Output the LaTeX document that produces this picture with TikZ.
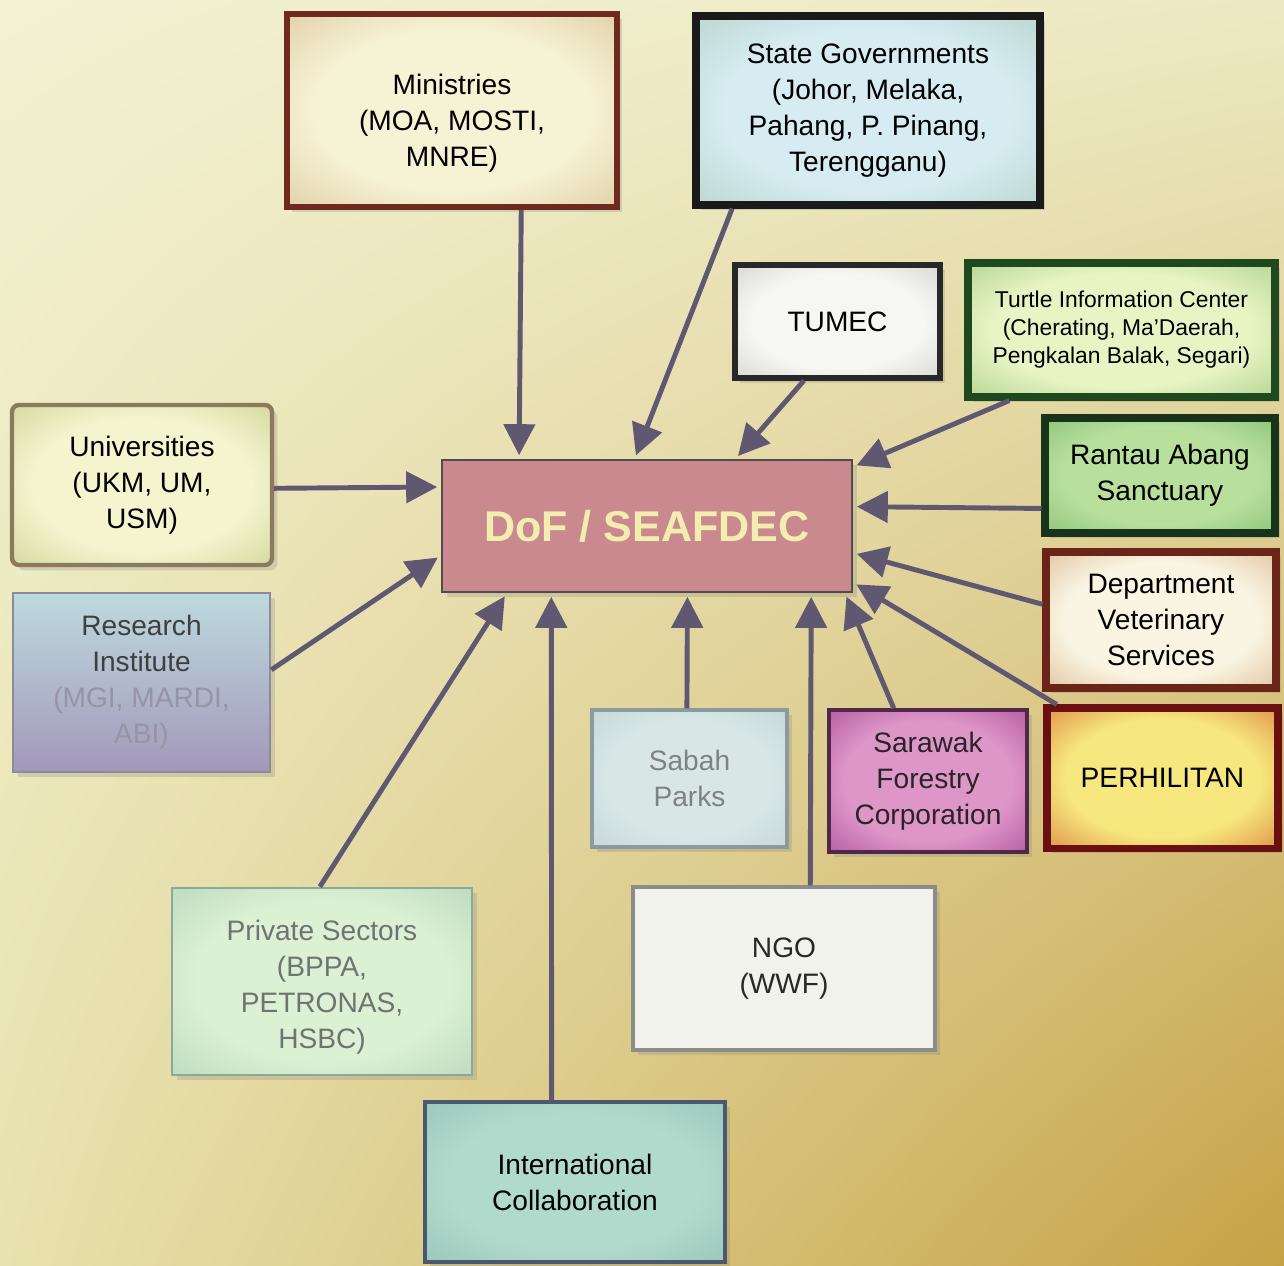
\documentclass[tikz,border=0pt]{standalone}
\usepackage{fontspec}
\setmainfont{Liberation Sans}
\usetikzlibrary{arrows.meta,calc,shadows,shadings}
\definecolor{arrowc}{RGB}{95,88,112}
\definecolor{bgul}{RGB}{243,241,210}
\definecolor{bgur}{RGB}{236,233,194}
\definecolor{bgll}{RGB}{232,226,174}
\definecolor{bglr}{RGB}{198,162,70}
% box colours: inner / outer
\definecolor{minin}{RGB}{246,242,212}\definecolor{minout}{RGB}{212,186,140}
\definecolor{sgin}{RGB}{214,236,242}\definecolor{sgout}{RGB}{170,200,184}
\definecolor{tuin}{RGB}{246,246,243}\definecolor{tuout}{RGB}{196,196,190}
\definecolor{ticin}{RGB}{232,244,196}\definecolor{ticout}{RGB}{146,192,112}
\definecolor{uniin}{RGB}{244,244,206}\definecolor{uniout}{RGB}{192,198,128}
\definecolor{rasin}{RGB}{184,224,156}\definecolor{rasout}{RGB}{112,176,98}
\definecolor{dvsin}{RGB}{249,245,226}\definecolor{dvsout}{RGB}{210,164,120}
\definecolor{sabin}{RGB}{216,230,230}\definecolor{sabout}{RGB}{186,206,208}
\definecolor{sfcin}{RGB}{222,150,200}\definecolor{sfcout}{RGB}{156,56,136}
\definecolor{pein}{RGB}{246,232,126}\definecolor{peout}{RGB}{208,90,36}
\definecolor{psin}{RGB}{220,240,212}\definecolor{psout}{RGB}{168,206,178}
\definecolor{icin}{RGB}{176,218,204}\definecolor{icout}{RGB}{140,188,176}
\newcommand\mkglow[1]{\pgfdeclareradialshading{#1glow}{\pgfpoint{0bp}{0bp}}{color(0bp)=(#1in); color(21bp)=(#1in); color(46bp)=(#1out); color(72bp)=(#1out)}}
\mkglow{min}\mkglow{sg}\mkglow{tu}\mkglow{tic}\mkglow{uni}\mkglow{ras}\mkglow{dvs}
\mkglow{sab}\mkglow{sfc}\mkglow{pe}\mkglow{ps}\mkglow{ic}
\begin{document}
\begin{tikzpicture}[
  box/.style={rectangle, align=center, inner sep=2pt, text=black,
     font=\fontsize{16}{20.5}\selectfont,
     drop shadow={opacity=0.25, shadow xshift=3pt, shadow yshift=-3pt}},
  glowbox/.style={shading=#1glow, shade},
  arr/.style={draw=arrowc, line width=2.8pt, -{Triangle[length=0.62cm,width=0.62cm]}, shorten >=2pt}
]
\useasboundingbox (0,0) rectangle (25.68,-25.3);
\shade[upper left=bgul, upper right=bgur, lower left=bgll, lower right=bglr] (0,0) rectangle (25.68,-25.3);

% nodes
\node[box, minimum width=6.6cm, minimum height=3.86cm, draw={rgb,255:red,110;green,43;blue,29}, line width=3.5pt,
      glowbox=min,
      label={[name=mint, align=center, font=\fontsize{16}{20.5}\selectfont, yshift=-0.26cm]center:Ministries\\(MOA, MOSTI,\\MNRE)}] (min) at (9.04,-2.21) {};
\node[box, minimum width=6.88cm, minimum height=3.78cm, draw={rgb,255:red,26;green,26;blue,26}, line width=4pt,
      glowbox=sg] (sg) at (17.36,-2.21)
      {State Governments\\(Johor, Melaka,\\Pahang, P. Pinang,\\Terengganu)};
\node[box, minimum width=4.1cm, minimum height=2.26cm, draw={rgb,255:red,40;green,40;blue,40}, line width=3pt,
      glowbox=tu] (tumec) at (16.75,-6.43)
      {TUMEC};
\node[box, minimum width=6.14cm, minimum height=2.68cm, draw={rgb,255:red,30;green,72;blue,30}, line width=4pt,
      font=\fontsize{13}{15.9}\selectfont,
      glowbox=tic] (tic) at (22.43,-6.6)
      {Turtle Information Center\\(Cherating, Ma'Daerah,\\Pengkalan Balak, Segari)};
\node[box, minimum width=5.2cm, minimum height=3.2cm, draw={rgb,255:red,140;green,122;blue,92}, line width=2.5pt, rounded corners=4pt,
      glowbox=uni] (uni) at (2.84,-9.7)
      {Universities\\(UKM, UM,\\USM)};
\node[box, minimum width=8.2cm, minimum height=2.64cm, draw={rgb,255:red,80;green,76;blue,76}, line width=1.5pt,
      fill={rgb,255:red,201;green,137;blue,143}, text={rgb,255:red,242;green,238;blue,176},
      font=\fontsize{24.5}{28}\selectfont\bfseries] (dof) at (12.94,-10.52)
      {DoF / SEAFDEC};
\node[box, minimum width=4.6cm, minimum height=2.3cm, draw={rgb,255:red,23;green,52;blue,26}, line width=4pt,
      glowbox=ras] (ras) at (23.2,-9.51)
      {Rantau Abang\\Sanctuary};
\node[box, minimum width=4.6cm, minimum height=2.72cm, draw={rgb,255:red,107;green,36;blue,24}, line width=4pt,
      glowbox=dvs] (dvs) at (23.22,-12.4)
      {Department\\Veterinary\\Services};
\node[box, minimum width=5.14cm, minimum height=3.58cm, draw={rgb,255:red,140;green,140;blue,152}, line width=1.5pt,
      top color={rgb,255:red,190;green,218;blue,222}, bottom color={rgb,255:red,162;green,152;blue,186}] (ri) at (2.83,-13.65)
      {\textcolor[RGB]{60,64,64}{Research}\\\textcolor[RGB]{60,64,64}{Institute}\\\textcolor[RGB]{150,148,166}{(MGI, MARDI,}\\\textcolor[RGB]{150,148,166}{ABI)}};
\node[box, minimum width=3.9cm, minimum height=2.74cm, draw={rgb,255:red,140;green,154;blue,160}, line width=2pt,
      glowbox=sab, text={rgb,255:red,125;green,131;blue,133}] (sabah) at (13.79,-15.57)
      {Sabah\\Parks};
\node[box, minimum width=3.96cm, minimum height=2.84cm, draw={rgb,255:red,80;green,40;blue,74}, line width=2pt,
      glowbox=sfc, text={rgb,255:red,40;green,36;blue,40}] (sfc) at (18.56,-15.62)
      {Sarawak\\Forestry\\Corporation};
\node[box, minimum width=4.62cm, minimum height=2.8cm, draw={rgb,255:red,106;green,16;blue,16}, line width=4pt,
      glowbox=pe] (perh) at (23.25,-15.56)
      {PERHILITAN};
\node[box, minimum width=6.0cm, minimum height=3.74cm, draw={rgb,255:red,140;green,168;blue,152}, line width=1.5pt,
      glowbox=ps,
      label={[name=pst, align=center, font=\fontsize{16}{20.5}\selectfont, text={rgb,255:red,110;green,116;blue,112}, yshift=-0.12cm]center:Private Sectors\\(BPPA,\\PETRONAS,\\HSBC)}] (ps) at (6.44,-19.63) {};
\node[box, minimum width=6.04cm, minimum height=3.26cm, draw={rgb,255:red,140;green,140;blue,136}, line width=2pt,
      fill={rgb,255:red,242;green,242;blue,236}, text={rgb,255:red,40;green,40;blue,40}] (ngo) at (15.68,-19.37)
      {NGO\\(WWF)};
\node[box, minimum width=6.0cm, minimum height=3.2cm, draw={rgb,255:red,74;green,88;blue,112}, line width=2pt,
      glowbox=ic] (ic) at (11.5,-23.64)
      {International\\Collaboration};

% connectors
\draw[arr] ($(min.south west)!0.706!(min.south east)$) -- ($(dof.north west)!0.19!(dof.north east)$);
\draw[arr] ($(sg.south west)!0.113!(sg.south east)$) -- ($(dof.north west)!0.47!(dof.north east)$);
\draw[arr] ($(tumec.south west)!0.34!(tumec.south east)$) -- ($(dof.north west)!0.715!(dof.north east)$);
\draw[arr] ($(tic.south west)!0.143!(tic.south east)$) -- ($(dof.north east)!0.06!(dof.south east)$);
\draw[arr] ($(ras.north west)!0.77!(ras.south west)$) -- ($(dof.north east)!0.356!(dof.south east)$);
\draw[arr] ($(dvs.north west)!0.39!(dvs.south west)$) -- ($(dof.north east)!0.70!(dof.south east)$);
\draw[arr] ($(perh.north west)!0.056!(perh.north east)$) -- ($(dof.north east)!0.92!(dof.south east)$);
\draw[arr] ($(sfc.north west)!0.33!(sfc.north east)$) -- ($(dof.south west)!0.98!(dof.south east)$);
\draw[arr] ($(ngo.north west)!0.586!(ngo.north east)$) -- ($(dof.south west)!0.898!(dof.south east)$);
\draw[arr] ($(sabah.north west)!0.487!(sabah.north east)$) -- ($(dof.south west)!0.598!(dof.south east)$);
\draw[arr] ($(ic.north west)!0.423!(ic.north east)$) -- ($(dof.south west)!0.268!(dof.south east)$);
\draw[arr] ($(ps.north west)!0.493!(ps.north east)$) -- ($(dof.south west)!0.16!(dof.south east)$);
\draw[arr] ($(ri.north east)!0.43!(ri.south east)$) -- ($(dof.north west)!0.72!(dof.south west)$);
\draw[arr] ($(uni.north east)!0.52!(uni.south east)$) -- ($(dof.north west)!0.21!(dof.south west)$);
\end{tikzpicture}
\end{document}
